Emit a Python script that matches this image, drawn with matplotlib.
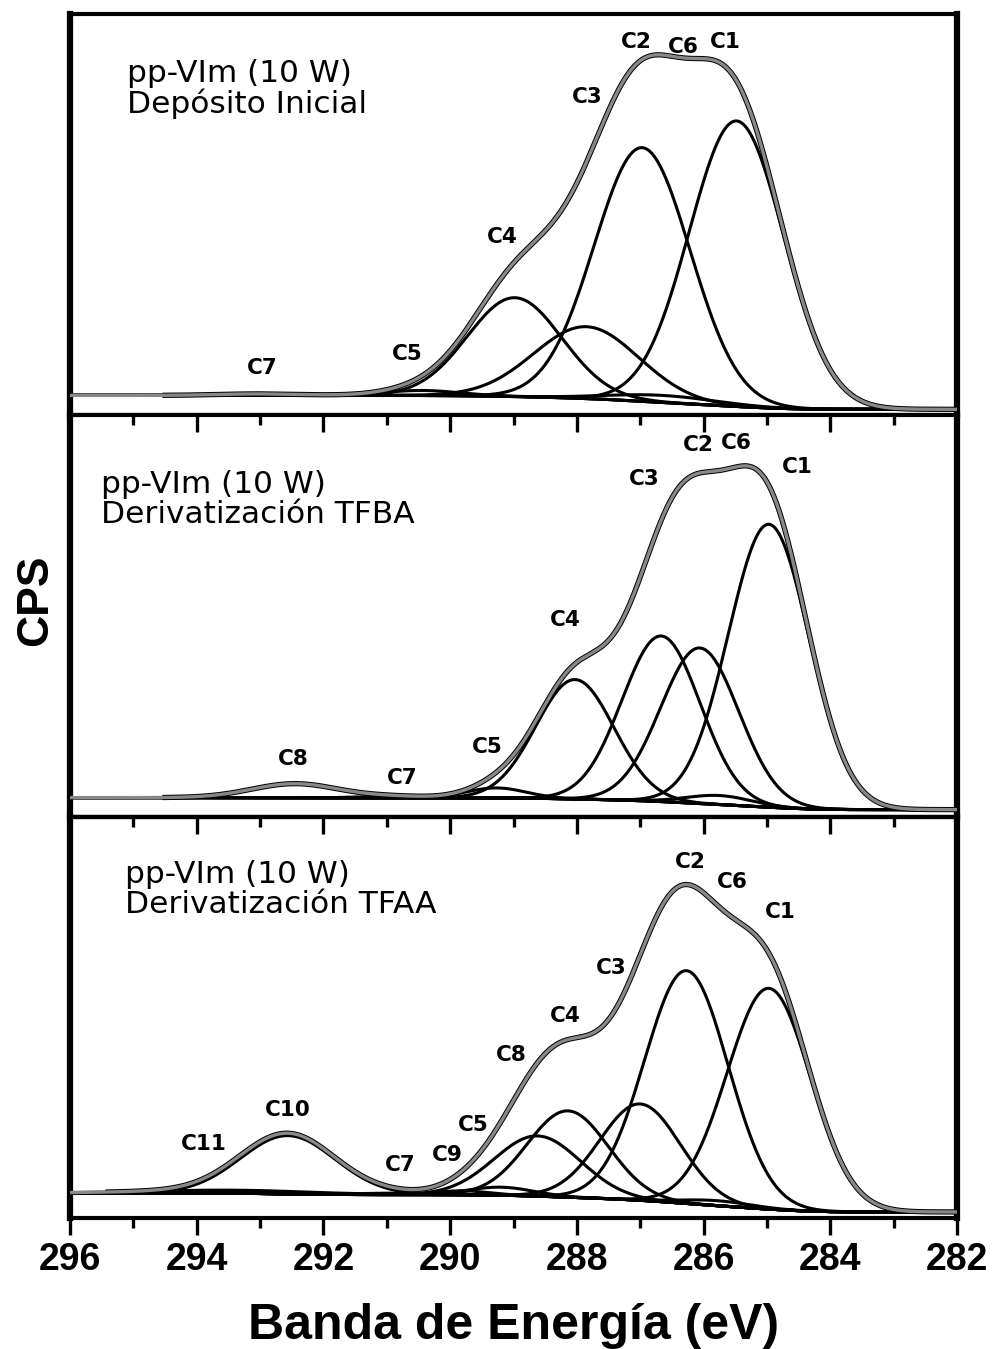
import numpy as np
import matplotlib
matplotlib.use("Agg")
import matplotlib.pyplot as plt

# binding energy window (eV)
e_min, e_max = 282, 296

# peak fits: centre (eV), height (cps, above background), fwhm (eV)
p1_names = ["C1", "C2", "C3", "C4", "C5", "C6", "C7"]
p1_center = [285.48, 286.97, 287.85, 288.98, 290.45, 286.65, 293.0]
p1_height = [286, 254, 72, 99, 5, 7, 1.5]
p1_fwhm = [1.75, 1.78, 1.95, 1.75, 1.4, 2.0, 1.5]
p1_bg = (20, 6)          # background level at 296 eV and at 282 eV
p1_data_start = 294.5

p2_names = ["C1", "C2", "C3", "C4", "C5", "C6", "C7", "C8"]
p2_center = [284.97, 286.06, 286.67, 288.03, 289.27, 285.75, 290.9, 292.45]
p2_height = [282, 155, 165, 119, 10, 9, 1.5, 14]
p2_fwhm = [1.5, 1.45, 1.45, 1.45, 1.1, 1.2, 1.2, 1.6]
p2_bg = (19, 7)
p2_data_start = 294.5

p3_names = ["C1", "C2", "C3", "C4", "C5", "C6", "C7", "C8", "C9", "C10", "C11"]
p3_center = [284.97, 286.27, 287.0, 288.14, 289.2, 285.8, 290.9, 288.62, 289.8, 292.56, 293.4]
p3_height = [220, 232, 96, 86, 8, 5, 1.5, 60, 4, 58, 3]
p3_fwhm = [1.55, 1.55, 1.5, 1.5, 1.2, 1.3, 1.2, 1.6, 1.0, 1.75, 3.0]
p3_bg = (25, 6)
p3_data_start = 295.4

# sample titles
titles = [
    "pp-VIm (10 W)\nDepósito Inicial",
    "pp-VIm (10 W)\nDerivatización TFBA",
    "pp-VIm (10 W)\nDerivatización TFAA",
]
title_pos = [(295.10, 327), (295.51, 316), (295.13, 327)]

# peak label positions (eV, cps)
p1_lab = {"C2": (287.06, 374), "C6": (286.32, 369), "C1": (285.65, 374),
          "C3": (287.83, 319), "C4": (289.17, 179), "C5": (290.67, 61),
          "C7": (292.97, 47)}
p2_lab = {"C2": (286.09, 370), "C6": (285.48, 372), "C1": (284.52, 349),
          "C3": (286.93, 337), "C4": (288.19, 196), "C5": (289.42, 69),
          "C7": (290.75, 39), "C8": (292.48, 57)}
p3_lab = {"C2": (286.21, 355), "C6": (285.54, 335), "C1": (284.79, 305),
          "C3": (287.45, 249), "C4": (288.18, 201), "C8": (289.03, 162),
          "C10": (292.56, 108), "C11": (293.89, 74), "C7": (290.79, 53),
          "C9": (290.05, 63), "C5": (289.64, 93)}

panels = [
    (p1_center, p1_height, p1_fwhm, p1_bg, p1_data_start, p1_lab, 402),
    (p2_center, p2_height, p2_fwhm, p2_bg, p2_data_start, p2_lab, 400),
    (p3_center, p3_height, p3_fwhm, p3_bg, p3_data_start, p3_lab, 400),
]

x = np.linspace(e_min, e_max, 1401)


def gauss(x, c, h, w):
    s = w / 2.3548
    return h * np.exp(-(x - c) ** 2 / (2 * s ** 2))


fig = plt.figure(figsize=(10, 13.49), dpi=100)
left, width = 0.070, 0.887
top = 1 - 14 / 1349
ph = (1218 - 14) / 3 / 1349

axes = []
for i, (cen, hei, fw, bg, dstart, labs, ytop) in enumerate(panels):
    ax = fig.add_axes([left, top - (i + 1) * ph, width, ph])
    axes.append(ax)

    comps = [gauss(x, c, h, w) for c, h, w in zip(cen, hei, fw)]
    total = np.sum(comps, axis=0)
    # shirley-like background: steps up with cumulative peak area
    cum = np.cumsum(total)
    bgl = bg[1] + (bg[0] - bg[1]) * cum / cum[-1]
    env = total + bgl

    for comp in comps:
        ax.plot(x, comp + bgl, color="black", lw=2.2, zorder=2)
    ax.plot(x, bgl, color="black", lw=2.2, zorder=2)
    m = x <= dstart
    ax.plot(x[m], env[m], color="black", lw=3.8, zorder=3)
    ax.plot(x, env, color="#888888", lw=2.4, zorder=4)

    for name, (ex, ey) in labs.items():
        ax.text(ex, ey, name, ha="center", va="center", fontsize=15.5,
                fontweight="bold", family="DejaVu Sans")
    ax.text(title_pos[i][0], title_pos[i][1], titles[i], ha="left", va="center",
            fontsize=22.5, family="DejaVu Sans", linespacing=1.05)

    ax.set_xlim(e_max, e_min)
    ax.set_ylim(0, ytop)
    ax.set_yticks([])
    ax.set_xticks(np.arange(282, 297, 2))
    ax.set_xticks(np.arange(283, 296, 2), minor=True)
    for side in ["left", "right"]:
        ax.spines[side].set_linewidth(4.5)
    for side in ["top", "bottom"]:
        ax.spines[side].set_linewidth(3.0)

    if i == 0:
        ax.tick_params(axis="x", which="both", bottom=False, top=False,
                       labelbottom=False)
    elif i == 1:
        ax.tick_params(axis="x", which="both", bottom=False, top=True,
                       direction="in", labelbottom=False)
    else:
        ax.tick_params(axis="x", which="both", bottom=True, top=False,
                       direction="out")
    ax.tick_params(axis="x", which="major", length=12, width=2.4)
    ax.tick_params(axis="x", which="minor", length=7, width=2.4)

# top ticks of panel 3 point inward, bottom ticks outward: add secondary axis for the top
sec = axes[2].secondary_xaxis("top")
sec.set_xticks(np.arange(282, 297, 2))
sec.set_xticks(np.arange(283, 296, 2), minor=True)
sec.tick_params(axis="x", which="both", direction="in", labeltop=False, width=2.4)
sec.tick_params(axis="x", which="major", length=12)
sec.tick_params(axis="x", which="minor", length=7)
sec.spines["top"].set_linewidth(3.0)

ax3 = axes[2]
for lab in ax3.get_xticklabels():
    lab.set_fontweight("bold")
    lab.set_fontfamily("Liberation Sans")
    lab.set_fontsize(27)
ax3.tick_params(axis="x", which="major", pad=5)
ax3.set_xlabel("Banda de Energía (eV)", fontsize=36, fontweight="bold",
               family="Liberation Sans", labelpad=18)

fig.text(0.036, 0.555, "CPS", rotation=90, ha="center", va="center",
         fontsize=32, fontweight="bold", family="Liberation Sans")

fig.savefig("out.png", dpi=100)
